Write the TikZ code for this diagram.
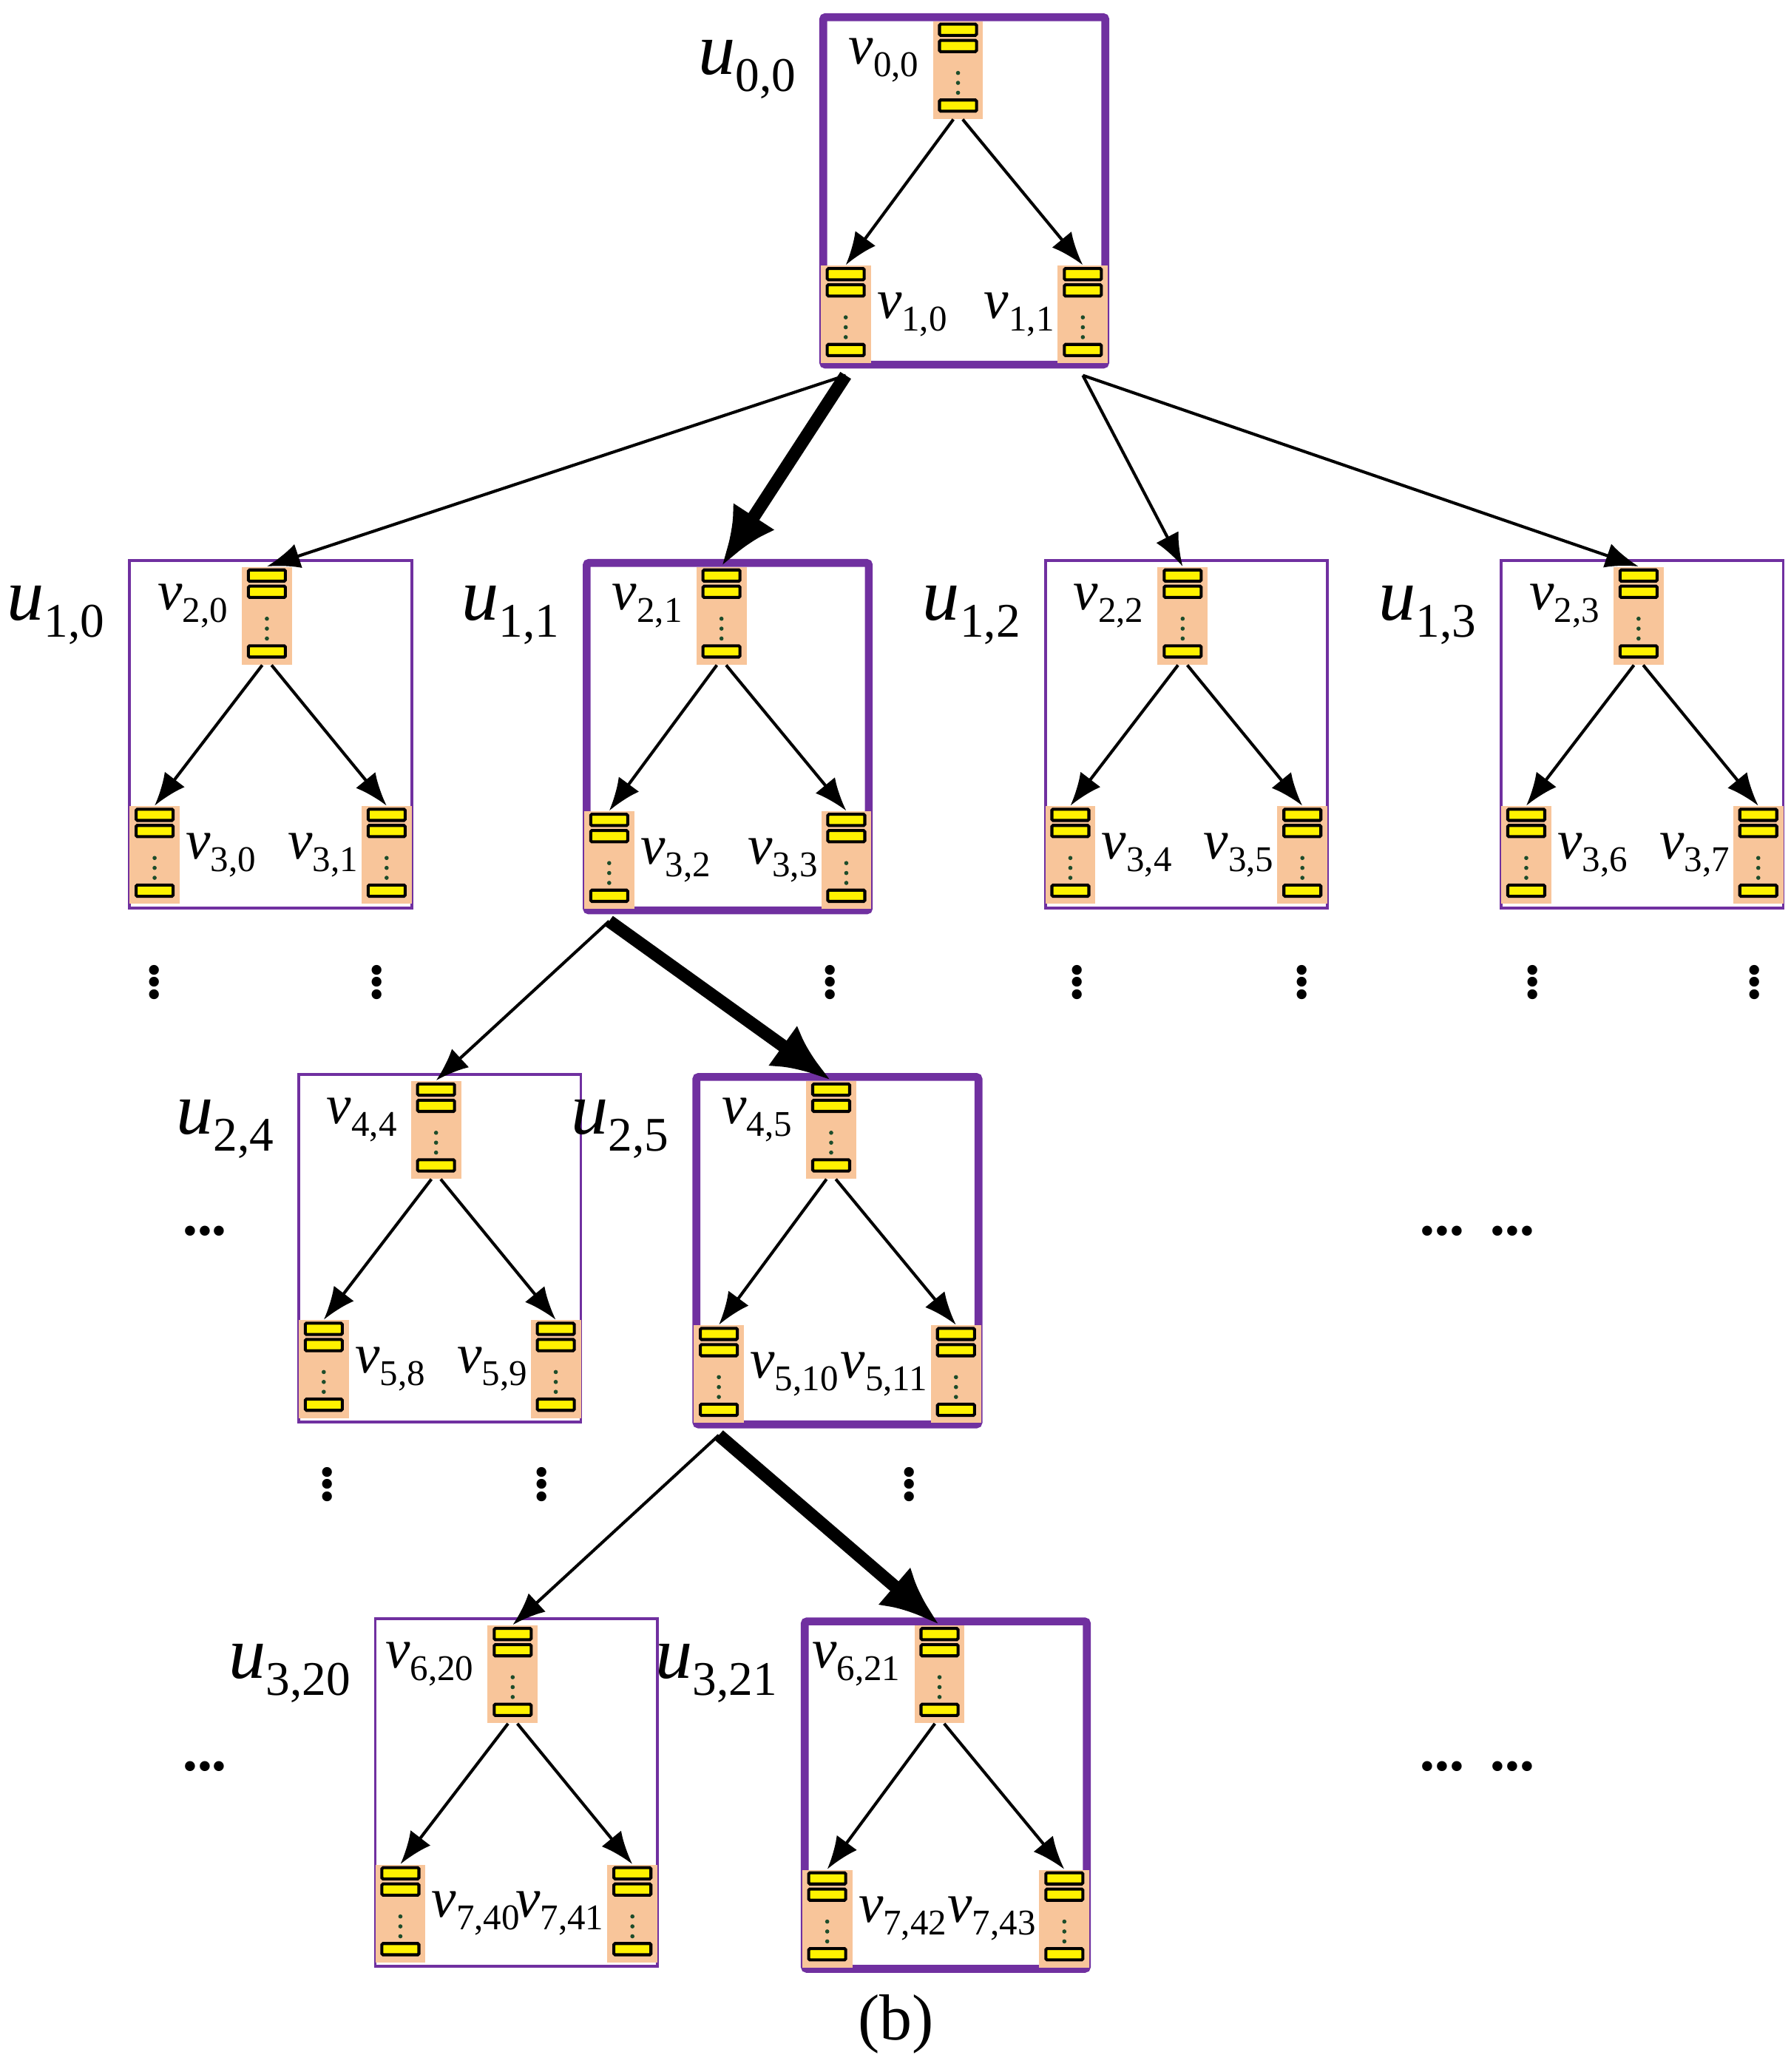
\documentclass[tikz,border=0pt]{standalone}
\usepackage{fontspec}
\setmainfont{Liberation Serif}
\usetikzlibrary{positioning, arrows.meta}
\definecolor{boxpurple}{HTML}{7030A0}
\definecolor{peach}{HTML}{F8C59A}
\definecolor{dotgreen}{HTML}{1E4D2B}
\tikzset{
    thinbox/.style={shape=rectangle,draw=boxpurple,line width=1.2pt,minimum width=4.27cm,minimum height=5.26cm,anchor=north west,inner sep=0pt},
    thickbox/.style={thinbox,line width=3.4pt,rounded corners=1pt},
    stack/.style={shape=rectangle,fill=peach,minimum width=0.76cm,minimum height=1.48cm,inner sep=0pt},
    bar/.style={shape=rectangle,draw=black,fill=yellow,line width=1.3pt,minimum width=0.56cm,minimum height=0.17cm,inner sep=0pt,rounded corners=0.5pt},
    arrow/.style={draw,line width=1.3pt,-{Latex[length=0.5cm,width=0.38cm]}},
    bigarrow/.style={draw,line width=5.5pt,-{Latex[length=0.9cm,width=0.75cm]}},
    vlabel/.style={font=\fontsize{24}{24}\selectfont,inner sep=0pt},
    ulabel/.style={font=\fontsize{32}{32}\selectfont,inner sep=0pt,anchor=east},
    dots/.style={font=\fontsize{26}{26}\selectfont\bfseries},
    hdots/.style={font=\fontsize{18}{18}\selectfont}
}
\newcommand\sym[2]{\textit{#1}\raisebox{-0.5ex}{\scalebox{0.65}{#2}}}
% one server stack: two bars on top, dots, one bar at the bottom
\newcommand\serverstack[2]{%
    \node [stack] (#1) at #2 {};
    \node [bar, below=0.03cm of #1.north] (#1a) {};
    \node [bar, below=0.03cm of #1a] (#1b) {};
    \node [bar, above=0.1cm of #1.south] (#1c) {};
    \fill [dotgreen] ([yshift=-0.3cm]#1b.south) circle (0.9pt)
                     ([yshift=-0.45cm]#1b.south) circle (0.9pt)
                     ([yshift=-0.6cm]#1b.south) circle (0.9pt);
}
% one box u with its tree of three stacks
\newcommand\treebox[8]{%
    \node [#4] (#1) at (#2,#3) {};
    \serverstack{#1t}{([xshift=2.1cm,yshift=-0.86cm]#1.north west)}
    \serverstack{#1l}{([xshift=0.4cm,yshift=0.82cm]#1.south west)}
    \serverstack{#1r}{([xshift=-0.4cm,yshift=0.82cm]#1.south east)}
    \node [vlabel, left=0.2cm of #1t, yshift=0.15cm] {\sym{v}{#6}};
    \node [vlabel, right=0.08cm of #1l] {\sym{v}{#7}};
    \node [vlabel, left=0.04cm of #1r] {\sym{v}{#8}};
    \node [ulabel] at ([xshift=-0.35cm,yshift=-0.85cm]#1.north west) {\sym{u}{#5}};
    \draw [arrow] ([xshift=-2pt]#1t.south) -- (#1l.north);
    \draw [arrow] ([xshift=2pt]#1t.south) -- (#1r.north);
}

\begin{document}
\begin{tikzpicture}[x=0.02cm,y=-0.02cm]
    \useasboundingbox (0,0) rectangle (1355,1568);

    % boxes
    \treebox{b00}{620}{10}{thickbox}{0,0}{0,0}{1,0}{1,1}
    \treebox{b10}{97}{423}{thinbox}{1,0}{2,0}{3,0}{3,1}
    \treebox{b11}{441}{423}{thickbox}{1,1}{2,1}{3,2}{3,3}
    \treebox{b12}{790}{423}{thinbox}{1,2}{2,2}{3,4}{3,5}
    \treebox{b13}{1135}{423}{thinbox}{1,3}{2,3}{3,6}{3,7}
    \treebox{b24}{225}{812}{thinbox}{2,4}{4,4}{5,8}{5,9}
    \treebox{b25}{524}{812}{thickbox}{2,5}{4,5}{5,10}{5,11}
    \treebox{b320}{283}{1224}{thinbox}{3,20}{6,20}{7,40}{7,41}
    \treebox{b321}{606}{1224}{thickbox}{3,21}{6,21}{7,42}{7,43}

    % arrows between boxes
    \draw [arrow] ([yshift=-5pt]b00l.south) -- (b10t.north);
    \draw [bigarrow] ([yshift=-5pt]b00l.south) -- (b11t.north);
    \draw [arrow] ([yshift=-5pt]b00r.south) -- (b12t.north);
    \draw [arrow] ([yshift=-5pt]b00r.south) -- (b13t.north);
    \draw [arrow] ([yshift=-5pt]b11l.south) -- (b24t.north);
    \draw [bigarrow] ([yshift=-5pt]b11l.south) -- (b25t.north);
    \draw [arrow] ([yshift=-5pt]b25l.south) -- (b320t.north);
    \draw [bigarrow] ([yshift=-5pt]b25l.south) -- (b321t.north);

    % dots
    \foreach \x in {117,285,628,815,985,1160,1328}
        \node [dots] at (\x,738) {$\vdots$};
    \foreach \x in {248,410,688}
        \node [dots] at (\x,1118) {$\vdots$};
    \node [hdots] at (155,935) {\textbullet\textbullet\textbullet};
    \node [hdots] at (155,1340) {\textbullet\textbullet\textbullet};
    \node [hdots] at (1118,935) {\textbullet\textbullet\textbullet\hspace{0.4cm}\textbullet\textbullet\textbullet};
    \node [hdots] at (1118,1340) {\textbullet\textbullet\textbullet\hspace{0.4cm}\textbullet\textbullet\textbullet};

    % caption
    \node [font=\fontsize{28}{28}\selectfont] at (678,1532) {(b)};
\end{tikzpicture}
\end{document}
